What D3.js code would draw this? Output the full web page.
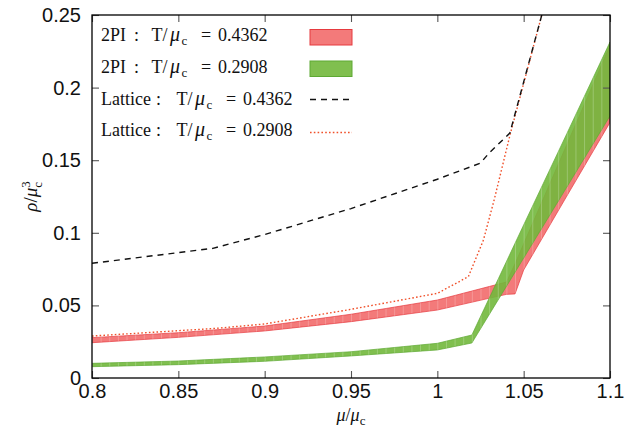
<!DOCTYPE html>
<html>
<head>
<meta charset="utf-8">
<script src="https://cdn.jsdelivr.net/npm/d3@7"></script>
<style>
  body { margin: 0; background: #fff; }
  .tick text { font-family: "Liberation Sans", Arial, sans-serif; font-size: 20px; fill: #111; }
  .serif { font-family: "Liberation Serif", "Times New Roman", serif; fill: #111; }
</style>
</head>
<body>
<script>
const WIDTH = 639, HEIGHT = 433;
const margin = {left: 92, right: 29, top: 15, bottom: 55};

// axis ticks
const xTicks = [0.8, 0.85, 0.9, 0.95, 1.0, 1.05, 1.1];
const xTickLabels = ["0.8", "0.85", "0.9", "0.95", "1", "1.05", "1.1"];
const yTicks = [0, 0.05, 0.1, 0.15, 0.2, 0.25];
const yTickLabels = ["0", "0.05", "0.1", "0.15", "0.2", "0.25"];

// 2PI, T/mu_c = 0.4362 (band)
const muRed2PI = [0.8, 0.85, 0.9, 0.95, 1.0, 1.04, 1.045, 1.05, 1.075, 1.1];
const redHi = [0.0278, 0.0312, 0.0358, 0.0439, 0.0537, 0.0661, 0.0787, 0.0924, 0.1608, 0.229];
const redLo = [0.0243, 0.0280, 0.0324, 0.0388, 0.0468, 0.0576, 0.0579, 0.0744, 0.1253, 0.176];

// 2PI, T/mu_c = 0.2908 (band)
const muGreen2PI = [0.8, 0.85, 0.9, 0.95, 1.0, 1.02, 1.05, 1.075, 1.1];
const greenHi = [0.0101, 0.0117, 0.0145, 0.0181, 0.0239, 0.0296, 0.1054, 0.1683, 0.2314];
const greenLo = [0.0078, 0.0092, 0.0115, 0.0152, 0.0193, 0.0241, 0.0826, 0.1315, 0.1805];

// Lattice, T/mu_c = 0.4362
const muLatHot = [0.8, 0.87, 0.9, 0.95, 1.0, 1.025, 1.03, 1.042, 1.0605];
const rhoLatHot = [0.079, 0.0893, 0.0988, 0.1167, 0.1369, 0.148, 0.155, 0.1687, 0.25];

// Lattice, T/mu_c = 0.2908
const muLatCold = [0.8, 0.872, 0.9, 0.95, 1.0, 1.018, 1.0267, 1.0329, 1.0421, 1.0605];
const rhoLatCold = [0.0289, 0.0342, 0.0372, 0.0473, 0.0583, 0.0698, 0.095, 0.1226, 0.1674, 0.25];

const RED_FILL = "#f37a7a", RED_EDGE = "#e63a3f";
const GREEN_FILL = "#72b83c", GREEN_EDGE = "#5ea934", GREEN_OP = 0.9;

const svg = d3.select("body").append("svg")
    .attr("width", WIDTH).attr("height", HEIGHT);

const x = d3.scaleLinear().domain([0.8, 1.1]).range([margin.left, WIDTH - margin.right]);
const y = d3.scaleLinear().domain([0, 0.25]).range([HEIGHT - margin.bottom, margin.top]);

const defs = svg.append("defs");
defs.append("clipPath").attr("id", "plotclip")
  .append("rect")
    .attr("x", x(0.8)).attr("y", y(0.25))
    .attr("width", x(1.1) - x(0.8)).attr("height", y(0) - y(0.25));

// faint vertical seams like the sampled filledcurves
const step = x(0.805) - x(0.8);
const pat = defs.append("pattern").attr("id", "seams")
    .attr("patternUnits", "userSpaceOnUse")
    .attr("x", x(0.8)).attr("y", 0)
    .attr("width", step).attr("height", HEIGHT);
pat.append("line")
    .attr("x1", 0.4).attr("x2", 0.4).attr("y1", 0).attr("y2", HEIGHT)
    .attr("stroke", "#fff").attr("stroke-opacity", 0.3).attr("stroke-width", 0.8);

const plot = svg.append("g").attr("clip-path", "url(#plotclip)");

function band(mu, lo, hi) {
  return d3.area()
    .x((d, i) => x(mu[i]))
    .y0((d, i) => y(lo[i]))
    .y1((d, i) => y(hi[i]))(mu);
}

// red band
plot.append("path").attr("d", band(muRed2PI, redLo, redHi))
    .attr("fill", RED_FILL).attr("stroke", RED_EDGE).attr("stroke-width", 0.7);
plot.append("path").attr("d", band(muRed2PI, redLo, redHi)).attr("fill", "url(#seams)");

// green band
plot.append("path").attr("d", band(muGreen2PI, greenLo, greenHi))
    .attr("fill", GREEN_FILL).attr("fill-opacity", GREEN_OP)
    .attr("stroke", GREEN_EDGE).attr("stroke-width", 0.7);
plot.append("path").attr("d", band(muGreen2PI, greenLo, greenHi)).attr("fill", "url(#seams)");

const line = (mu, rho) => d3.line().x((d, i) => x(mu[i])).y((d, i) => y(rho[i]))(mu);

plot.append("path").attr("d", line(muLatCold, rhoLatCold))
    .attr("fill", "none").attr("stroke", "#f0502a").attr("stroke-width", 1.4)
    .attr("stroke-dasharray", "1.6,2.2");
plot.append("path").attr("d", line(muLatHot, rhoLatHot))
    .attr("fill", "none").attr("stroke", "#111").attr("stroke-width", 1.4)
    .attr("stroke-dasharray", "6,5");

// axes with inward ticks
const TICK = 7;
const xAxis = svg.append("g").attr("transform", `translate(0,${y(0)})`)
  .call(d3.axisBottom(x).tickValues(xTicks).tickSize(-TICK).tickPadding(6)
    .tickFormat((d, i) => xTickLabels[i]));
const yAxis = svg.append("g").attr("transform", `translate(${x(0.8)},0)`)
  .call(d3.axisLeft(y).tickValues(yTicks).tickSize(-TICK).tickPadding(11)
    .tickFormat((d, i) => yTickLabels[i]));
const xTop = svg.append("g").attr("transform", `translate(0,${y(0.25)})`)
  .call(d3.axisTop(x).tickValues(xTicks).tickSize(-TICK).tickFormat(""));
const yRight = svg.append("g").attr("transform", `translate(${x(1.1)},0)`)
  .call(d3.axisRight(y).tickValues(yTicks).tickSize(-TICK).tickFormat(""));
[xAxis, yAxis, xTop, yRight].forEach(a => {
  a.select(".domain").remove();
  a.selectAll(".tick line").attr("stroke", "#555").attr("stroke-width", 1.1);
});

// border
svg.append("rect")
    .attr("x", x(0.8)).attr("y", y(0.25))
    .attr("width", x(1.1) - x(0.8)).attr("height", y(0) - y(0.25))
    .attr("fill", "none").attr("stroke", "#000").attr("stroke-width", 1.3);

// axis titles
const xt = svg.append("text").attr("class", "serif")
    .attr("x", (x(0.8) + x(1.1)) / 2).attr("y", 421)
    .attr("text-anchor", "middle").style("font-size", "18px");
xt.append("tspan").style("font-style", "italic").text("μ");
xt.append("tspan").text("/");
xt.append("tspan").style("font-style", "italic").text("μ");
xt.append("tspan").attr("dy", 4).style("font-size", "13px").text("c");

const yt = svg.append("text").attr("class", "serif")
    .attr("transform", `translate(37,${(y(0) + y(0.25)) / 2}) rotate(-90)`)
    .attr("text-anchor", "middle").style("font-size", "19px");
yt.append("tspan").style("font-style", "italic").text("ρ");
yt.append("tspan").text("/");
yt.append("tspan").style("font-style", "italic").text("μ");
yt.append("tspan").attr("dy", -7).style("font-size", "13px").text("3");
yt.append("tspan").attr("dx", -6.5).attr("dy", 12).style("font-size", "13px").text("c");

// legend
const legendRows = [
  {name: "2PI", value: "0.4362", pos: [101, 134, 151.5, 201, 218], base: 41},
  {name: "2PI", value: "0.2908", pos: [101, 134, 151.5, 201, 218], base: 72.5},
  {name: "Lattice", value: "0.4362", pos: [101, 156, 176.5, 226, 243], base: 104.5},
  {name: "Lattice", value: "0.2908", pos: [101, 156, 176.5, 226, 243], base: 136}
];
legendRows.forEach(r => {
  const t = svg.append("text").attr("class", "serif").attr("y", r.base).style("font-size", "18px");
  t.append("tspan").attr("x", r.pos[0]).text(r.name);
  t.append("tspan").attr("x", r.pos[1]).text(":");
  t.append("tspan").attr("x", r.pos[2]).text("T/");
  t.append("tspan").attr("dx", 2.5).style("font-style", "italic").style("font-size", "20px").text("μ");
  t.append("tspan").attr("dx", 1.5).attr("dy", 4).style("font-size", "13px").text("c");
  t.append("tspan").attr("x", r.pos[3]).attr("dy", -4).text("=");
  t.append("tspan").attr("x", r.pos[4]).text(r.value);
});
const LX0 = 310, LX1 = 352;
svg.append("rect").attr("x", LX0).attr("y", 29.5).attr("width", LX1 - LX0).attr("height", 15.5)
    .attr("fill", RED_FILL).attr("stroke", RED_EDGE).attr("stroke-width", 1);
svg.append("rect").attr("x", LX0).attr("y", 61).attr("width", LX1 - LX0).attr("height", 15.5)
    .attr("fill", GREEN_FILL).attr("fill-opacity", GREEN_OP).attr("stroke", GREEN_EDGE).attr("stroke-width", 1);
svg.append("line").attr("x1", LX0).attr("x2", LX1).attr("y1", 99.5).attr("y2", 99.5)
    .attr("stroke", "#111").attr("stroke-width", 1.4).attr("stroke-dasharray", "6,5");
svg.append("line").attr("x1", LX0).attr("x2", LX1).attr("y1", 132.5).attr("y2", 132.5)
    .attr("stroke", "#f0502a").attr("stroke-width", 1.4).attr("stroke-dasharray", "1.6,2.2");
</script>
</body>
</html>
